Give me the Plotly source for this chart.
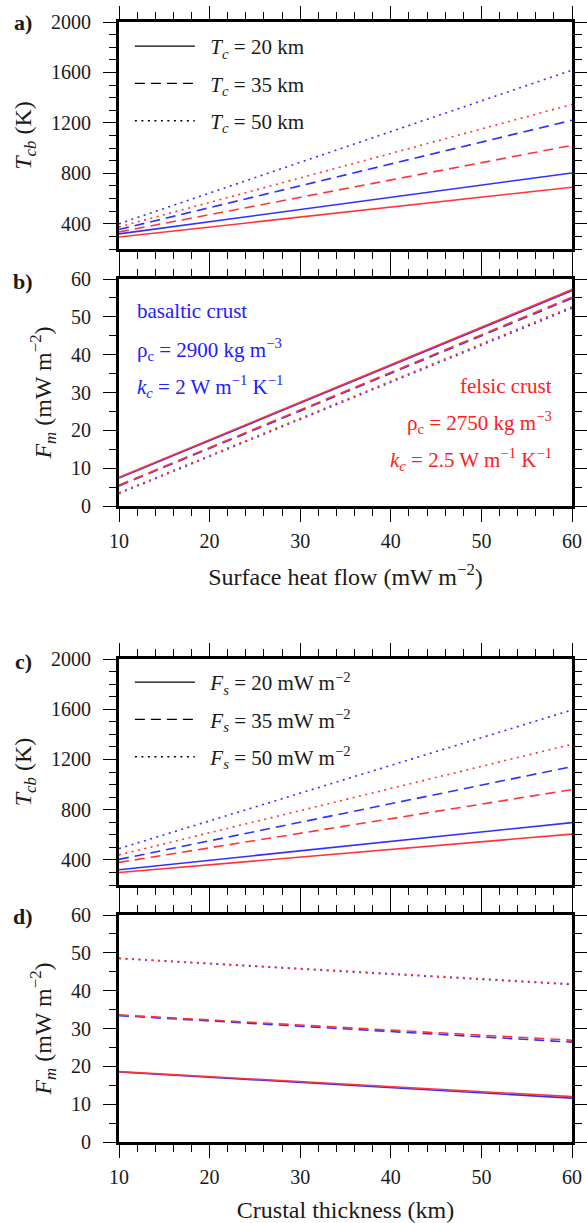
import plotly.graph_objects as go

# ---------------- data ----------------
# Panel a: Tcb (K) vs surface heat flow (mW m^-2), lines from x=10 to x=60
heat_flow = [10, 60]
a_blue_20 = [320, 803]
a_red_20 = [295, 690]
a_blue_35 = [355, 1221]
a_red_35 = [335, 1022]
a_blue_50 = [400, 1618]
a_red_50 = [375, 1346]

# Panel b: Fm (mW m^-2) vs surface heat flow
b_blue_20 = [7.4, 56.9]
b_red_20 = [7.6, 57.2]
b_blue_35 = [5.3, 54.9]
b_red_35 = [5.5, 55.2]
b_blue_50 = [3.3, 52.3]
b_red_50 = [3.5, 52.7]

# Panel c: Tcb (K) vs crustal thickness (km)
thickness = [10, 60]
c_blue_20 = [322, 697]
c_red_20 = [300, 605]
c_blue_35 = [404, 1143]
c_red_35 = [380, 960]
c_blue_50 = [490, 1594]
c_red_50 = [440, 1321]

# Panel d: Fm (mW m^-2) vs crustal thickness
d_blue_20 = [18.5, 11.6]
d_red_20 = [18.6, 12.0]
d_blue_35 = [33.4, 26.4]
d_red_35 = [33.6, 26.9]
d_blue_50 = [48.5, 41.6]
d_red_50 = [48.6, 41.8]

NB = "\u00a0\u00a0"
legend_a = [NB + "<i>T</i><sub><i>c</i></sub> = 20 km",
            NB + "<i>T</i><sub><i>c</i></sub> = 35 km",
            NB + "<i>T</i><sub><i>c</i></sub> = 50 km"]
legend_c = [NB + "<i>F</i><sub><i>s</i></sub> = 20 mW m<sup>\u22122</sup>",
            NB + "<i>F</i><sub><i>s</i></sub> = 35 mW m<sup>\u22122</sup>",
            NB + "<i>F</i><sub><i>s</i></sub> = 50 mW m<sup>\u22122</sup>"]

# ---------------- style ----------------
FONT = "Liberation Serif, Times New Roman, serif"
BLUE = "#3030ff"
RED = "#ff3535"
TXT_BLUE = "#2020ff"
TXT_RED = "#ff2020"
DASHES = ["solid", "10px,6px", "2px,4.5px"]
LW = 1.6

fig = go.Figure()

panels = [
    ("x", "y", heat_flow, [(a_blue_20, a_red_20), (a_blue_35, a_red_35), (a_blue_50, a_red_50)]),
    ("x2", "y2", heat_flow, [(b_blue_20, b_red_20), (b_blue_35, b_red_35), (b_blue_50, b_red_50)]),
    ("x3", "y3", thickness, [(c_blue_20, c_red_20), (c_blue_35, c_red_35), (c_blue_50, c_red_50)]),
    ("x4", "y4", thickness, [(d_blue_20, d_red_20), (d_blue_35, d_red_35), (d_blue_50, d_red_50)]),
]
for xa, ya, xs, groups in panels:
    for dash, (blue, red) in zip(DASHES, groups):
        fig.add_trace(go.Scatter(x=xs, y=blue, mode="lines", xaxis=xa, yaxis=ya,
                                 line=dict(color=BLUE, width=LW, dash=dash),
                                 showlegend=False, hoverinfo="skip"))
        fig.add_trace(go.Scatter(x=xs, y=red, mode="lines", xaxis=xa, yaxis=ya,
                                 line=dict(color=RED, width=LW, dash=dash),
                                 showlegend=False, hoverinfo="skip"))

# legend entries (black line samples)
for i, (name, dash) in enumerate(zip(legend_a, DASHES)):
    fig.add_trace(go.Scatter(x=[None], y=[None], mode="lines", name=name, xaxis="x", yaxis="y",
                             line=dict(color="black", width=1.3, dash=dash),
                             legend="legend", legendgroup="a%d" % i))
for i, (name, dash) in enumerate(zip(legend_c, DASHES)):
    fig.add_trace(go.Scatter(x=[None], y=[None], mode="lines", name=name, xaxis="x3", yaxis="y3",
                             line=dict(color="black", width=1.3, dash=dash),
                             legend="legend2", legendgroup="c%d" % i))

TOP, BOT, H = 22, 1142, 1223
PH = BOT - TOP


def dom(top_px, bot_px):
    return [(BOT - bot_px) / PH, (BOT - top_px) / PH]


def frac_y(px):
    return (BOT - px) / PH


common = dict(showline=True, linewidth=3, linecolor="black", mirror="allticks",
              ticks="outside", ticklen=13, tickwidth=1.4, tickcolor="black",
              showgrid=False, zeroline=False, automargin=False,
              tickfont=dict(family=FONT, size=20, color="#1a1a1a"))

xcommon = dict(common, range=[10, 60], tick0=10, dtick=10, ticklabelstandoff=2,
               minor=dict(dtick=2, ticklen=7, tickwidth=1.2, tickcolor="black", ticks="outside"))
ycommon = dict(common, ticklabelstandoff=8)

title_font = dict(family=FONT, size=24, color="#1a1a1a")
yminor_T = dict(dtick=100, ticklen=7, tickwidth=1.2, tickcolor="black", ticks="outside")
yminor_F = dict(dtick=5, ticklen=7, tickwidth=1.2, tickcolor="black", ticks="outside")

fig.update_layout(
    width=587, height=H,
    margin=dict(l=119, r=15, t=TOP, b=H - BOT, autoexpand=False),
    plot_bgcolor="white", paper_bgcolor="white",
    font=dict(family=FONT, size=20, color="#1a1a1a"),
    xaxis=dict(xcommon, domain=[0, 1], anchor="y", showticklabels=False),
    xaxis2=dict(xcommon, domain=[0, 1], anchor="y2",
                title=dict(text="Surface heat flow (mW m<sup>\u22122</sup>)", font=title_font, standoff=18)),
    xaxis3=dict(xcommon, domain=[0, 1], anchor="y3", showticklabels=False),
    xaxis4=dict(xcommon, domain=[0, 1], anchor="y4",
                title=dict(text="Crustal thickness (km)", font=title_font, standoff=18)),
    yaxis=dict(ycommon, domain=dom(22, 249), anchor="x", range=[200, 2000], tick0=0, dtick=400,
               minor=yminor_T,
               title=dict(text="<i>T</i><sub><i>cb</i></sub> (K)", font=title_font, standoff=13)),
    yaxis2=dict(ycommon, domain=dom(279, 506), anchor="x2", range=[0, 60], tick0=0, dtick=10,
                minor=yminor_F,
                title=dict(text="<i>F</i><sub><i>m</i></sub> (mW m<sup>\u22122</sup>)", font=title_font, standoff=13)),
    yaxis3=dict(ycommon, domain=dom(659, 885), anchor="x3", range=[200, 2000], tick0=0, dtick=400,
                minor=yminor_T,
                title=dict(text="<i>T</i><sub><i>cb</i></sub> (K)", font=title_font, standoff=13)),
    yaxis4=dict(ycommon, domain=dom(915, 1142), anchor="x4", range=[0, 60], tick0=0, dtick=10,
                minor=yminor_F,
                title=dict(text="<i>F</i><sub><i>m</i></sub> (mW m<sup>\u22122</sup>)", font=title_font, standoff=13)),
    legend=dict(x=0.024, y=frac_y(26), xanchor="left", yanchor="top", bgcolor="rgba(0,0,0,0)",
                font=dict(family=FONT, size=21, color="#1a1a1a"), itemwidth=60, tracegroupgap=7),
    legend2=dict(x=0.024, y=frac_y(662), xanchor="left", yanchor="top", bgcolor="rgba(0,0,0,0)",
                 font=dict(family=FONT, size=21, color="#1a1a1a"), itemwidth=60, tracegroupgap=7),
)

ann = []
# panel labels
for lab, ypx in [("a)", 23), ("b)", 282), ("c)", 661), ("d)", 917)]:
    ann.append(dict(text="<b>%s</b>" % lab, xref="paper", yref="paper", x=(23 - 119) / 453, y=frac_y(ypx),
                    xanchor="center", yanchor="middle", showarrow=False,
                    font=dict(family=FONT, size=22, color="#1a1a1a")))

basalt = ["basaltic crust", "\u03c1<sub>c</sub> = 2900 kg m<sup>\u22123</sup>",
          "<i>k</i><sub><i>c</i></sub> = 2 W m<sup>\u22121</sup> K<sup>\u22121</sup>"]
felsic = ["felsic crust", "\u03c1<sub>c</sub> = 2750 kg m<sup>\u22123</sup>",
          "<i>k</i><sub><i>c</i></sub> = 2.5 W m<sup>\u22121</sup> K<sup>\u22121</sup>"]
basalt_y = [51.6, 41.3, 31.6]
felsic_y = [31.6, 22.0, 12.2]
for t, yv in zip(basalt, basalt_y):
    ann.append(dict(text=t, xref="x2", yref="y2", x=11.8, y=yv, xanchor="left", yanchor="middle",
                    showarrow=False, font=dict(family=FONT, size=21, color=TXT_BLUE)))
for t, yv in zip(felsic, felsic_y):
    ann.append(dict(text=t, xref="x2", yref="y2", x=58.0, y=yv, xanchor="right", yanchor="middle",
                    showarrow=False, font=dict(family=FONT, size=21, color=TXT_RED)))
fig.update_layout(annotations=ann)

fig.write_html("out.html", config={"displayModeBar": False},
               post_script="document.body.style.margin='0px';")
